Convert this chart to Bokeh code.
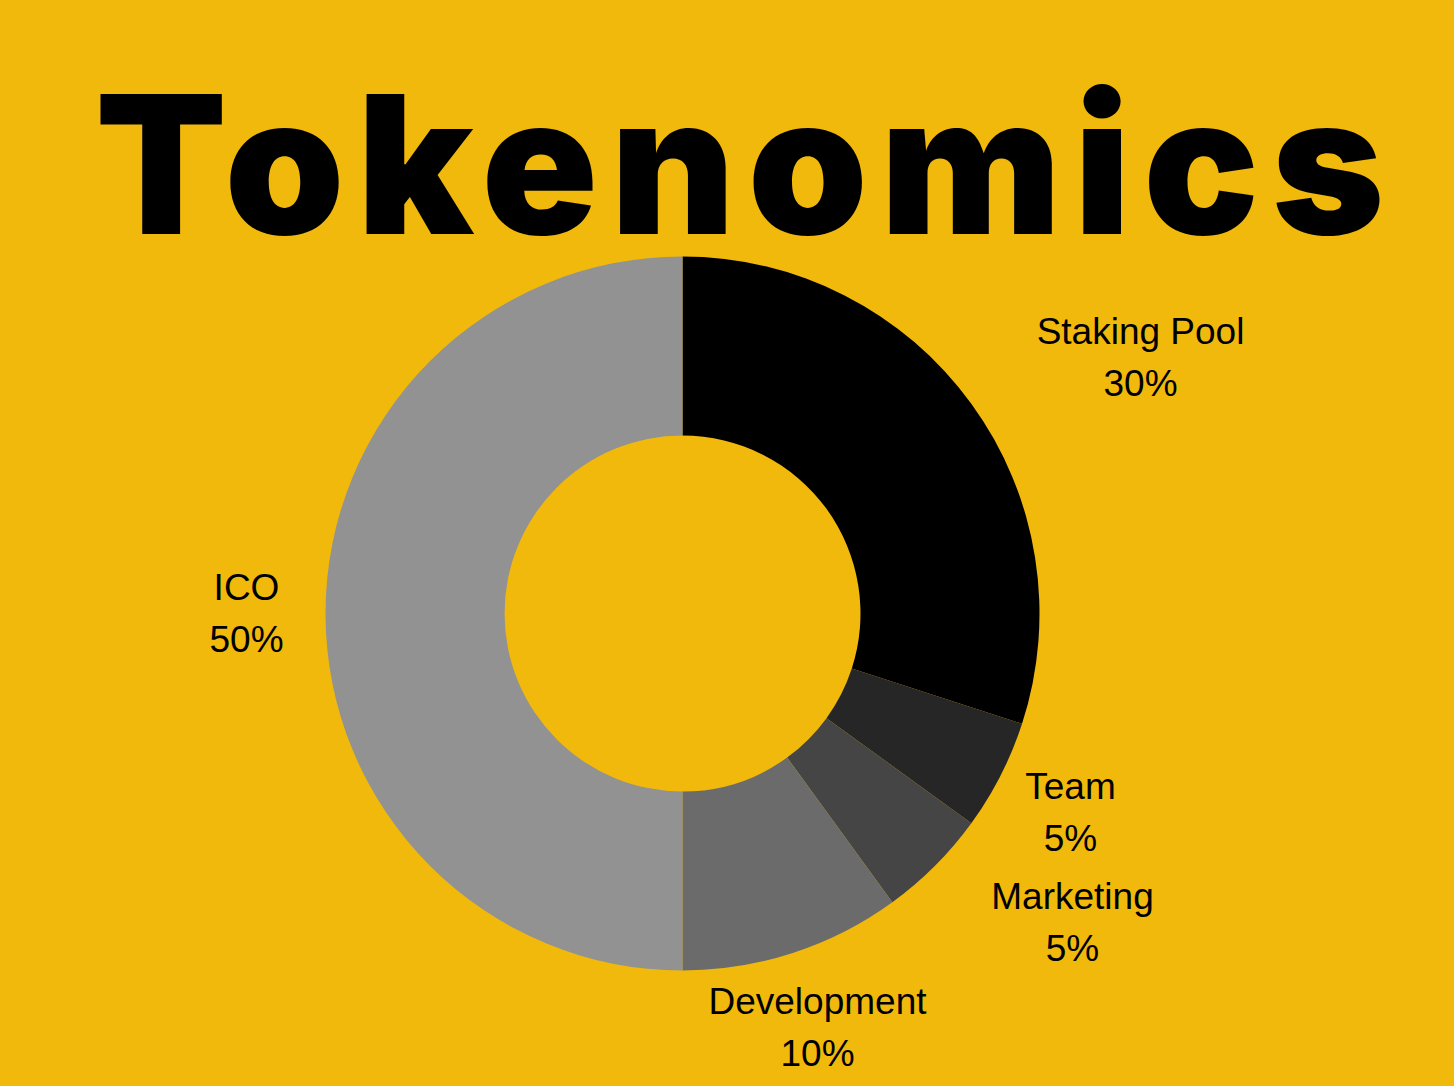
import numpy as np
from bokeh.plotting import figure
from bokeh.models import Range1d, ColumnDataSource, Div
from bokeh.layouts import column
from bokeh.core.properties import value
from bokeh.embed import file_html
from bokeh.resources import INLINE

# ---- data ----
categories = ["Staking Pool", "Team", "Marketing", "Development", "ICO"]
shares = [30, 5, 5, 10, 50]
pct_labels = ["30%", "5%", "5%", "10%", "50%"]
colors = ["#000000", "#262626", "#454545", "#6b6b6b", "#929292"]
title_text = "Tokenomics"

# ---- layout (pixel-space) ----
W, H = 1454, 1086
TOP = 250
FH = H - TOP
BG = "#F1B90B"
cx, cy = 682, H - 613
r_out, r_in = 357, 178
label_x = [1140, 1070, 1072, 817, 246]
label_y = [357, 812, 922, 1027, 613]
line_gap = 26

header = Div(
    text=f'<div style="font-family: Inter, sans-serif; font-weight: 900; '
         f'font-size: 192px; line-height: 192px; letter-spacing: 12.5px; '
         f'color: #000; text-align: center; width: 1454px; padding-top: 68px; '
         f'padding-left: 38px; box-sizing: border-box; white-space: nowrap;">{title_text}</div>',
    width=W, height=TOP, margin=0,
    styles={"background-color": BG, "overflow": "visible"})

p = figure(width=W, height=FH, x_range=Range1d(0, W), y_range=Range1d(0, FH),
           output_backend="svg", toolbar_location=None, min_border=0, margin=0,
           background_fill_color=BG, border_fill_color=BG, outline_line_color=None)
p.axis.visible = False
p.grid.visible = False

frac = np.array(shares, dtype=float) / sum(shares)
cum = np.concatenate([[0], np.cumsum(frac)])
start = np.pi / 2 - 2 * np.pi * cum[:-1]
end = np.pi / 2 - 2 * np.pi * cum[1:]

src = ColumnDataSource(dict(start=start, end=end, color=colors, cat=categories))
p.annular_wedge(x=cx, y=cy, inner_radius=r_in, outer_radius=r_out,
                start_angle="start", end_angle="end", direction="clock",
                fill_color="color", line_color=None, source=src)

ly = [H - v for v in label_y]
lsrc = ColumnDataSource(dict(x=label_x,
                             y1=[v + line_gap for v in ly],
                             y2=[v - line_gap for v in ly],
                             name=categories, pct=pct_labels))
for col, yc in (("name", "y1"), ("pct", "y2")):
    p.text(x="x", y=yc, text=col, source=lsrc, text_align="center",
           text_baseline="middle", text_font=value("Liberation Sans"),
           text_font_size="37px", text_color="#000000")

layout = column(header, p, spacing=0, margin=0,
                styles={"background-color": BG})

open("out.html", "w").write(file_html(layout, INLINE))
